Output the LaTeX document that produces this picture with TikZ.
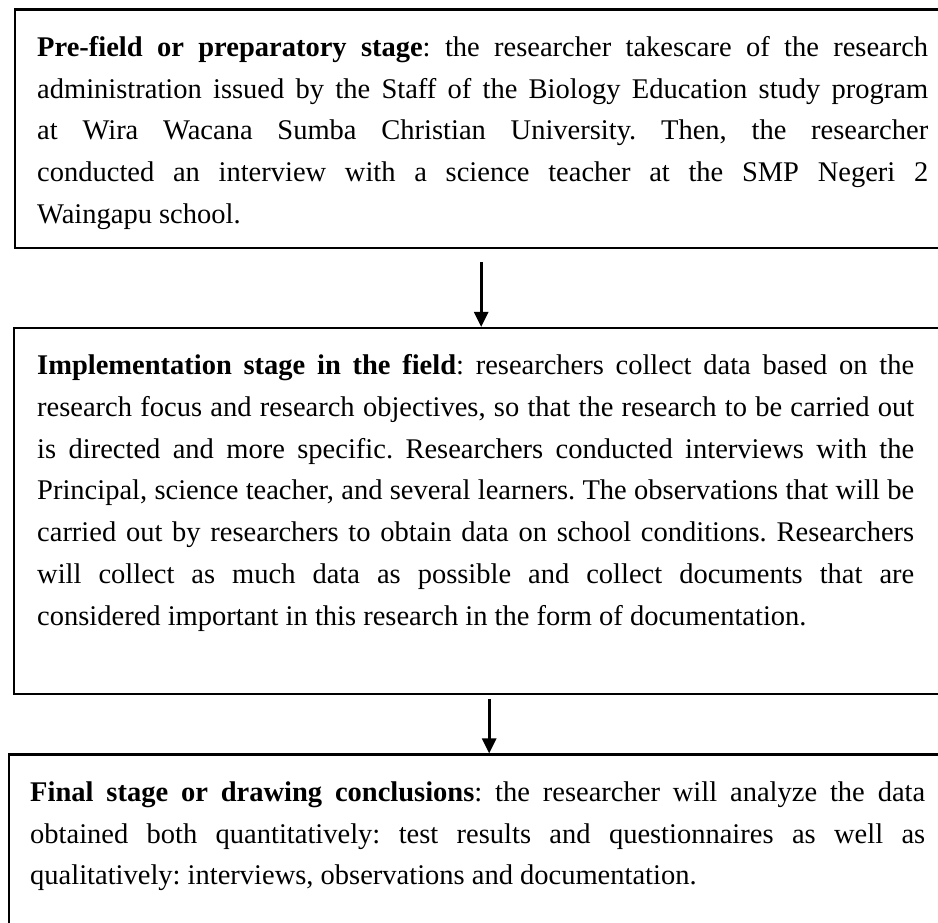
\documentclass[tikz,border=0pt]{standalone}
\usepackage{fontspec}
\setmainfont{Liberation Serif}
\usetikzlibrary{arrows.meta, positioning}

% text of one stage: height, left margin, right margin, text
\newcommand{\stagetext}[4]{\parbox[t][#1][t]{960pt}{\frenchspacing\leftskip=#2\rightskip=#3\vspace*{17.5pt}\strut #4}}

\begin{document}
\begin{tikzpicture}[x=1pt, y=1pt,
      stage/.style={draw, line width=2.4pt, anchor=north west, inner sep=0pt,
                    font=\fontsize{28.5}{41.7}\selectfont},
      arr/.style={-{Triangle[length=15pt, width=14pt]}, line width=2.6pt}]
    \useasboundingbox (0,0) rectangle (938,923);
    \node[stage] (pre) at (14,914.5) {\stagetext{238.5pt}{22pt}{47pt}{%
      \textbf{Pre-field or preparatory stage}: the researcher takescare of the research\linebreak
      administration issued by the Staff of the Biology Education study program\linebreak
      at Wira Wacana Sumba Christian University. Then, the researcher\linebreak
      conducted an interview with a science teacher at the SMP Negeri 2\linebreak
      Waingapu school.}};
    \node[stage] (impl) at (13,596) {\stagetext{366pt}{23pt}{60pt}{%
      \textbf{Implementation stage in the field}: researchers collect data based on the\linebreak
      research focus and research objectives, so that the research to be carried out\linebreak
      is directed and more specific. Researchers conducted interviews with the\linebreak
      Principal, science teacher, and several learners. The observations that will be\linebreak
      carried out by researchers to obtain data on school conditions. Researchers\linebreak
      will collect as much data as possible and collect documents that are\linebreak
      considered important in this research in the form of documentation.}};
    \node[stage] (final) at (7.5,169.5) {\stagetext{200pt}{21.5pt}{43.5pt}{%
      \textbf{Final stage or drawing conclusions}: the researcher will analyze the data\linebreak
      obtained both quantitatively: test results and questionnaires as well as\linebreak
      qualitatively: interviews, observations and documentation.}};
    \draw[arr, shorten <=13pt] ([xshift=-14pt]pre.south) -- ([xshift=-13pt]impl.north);
    \draw[arr, shorten <=4pt] ([xshift=-5pt]impl.south) -- ([xshift=0.5pt]final.north);
  \end{tikzpicture}
\end{document}
